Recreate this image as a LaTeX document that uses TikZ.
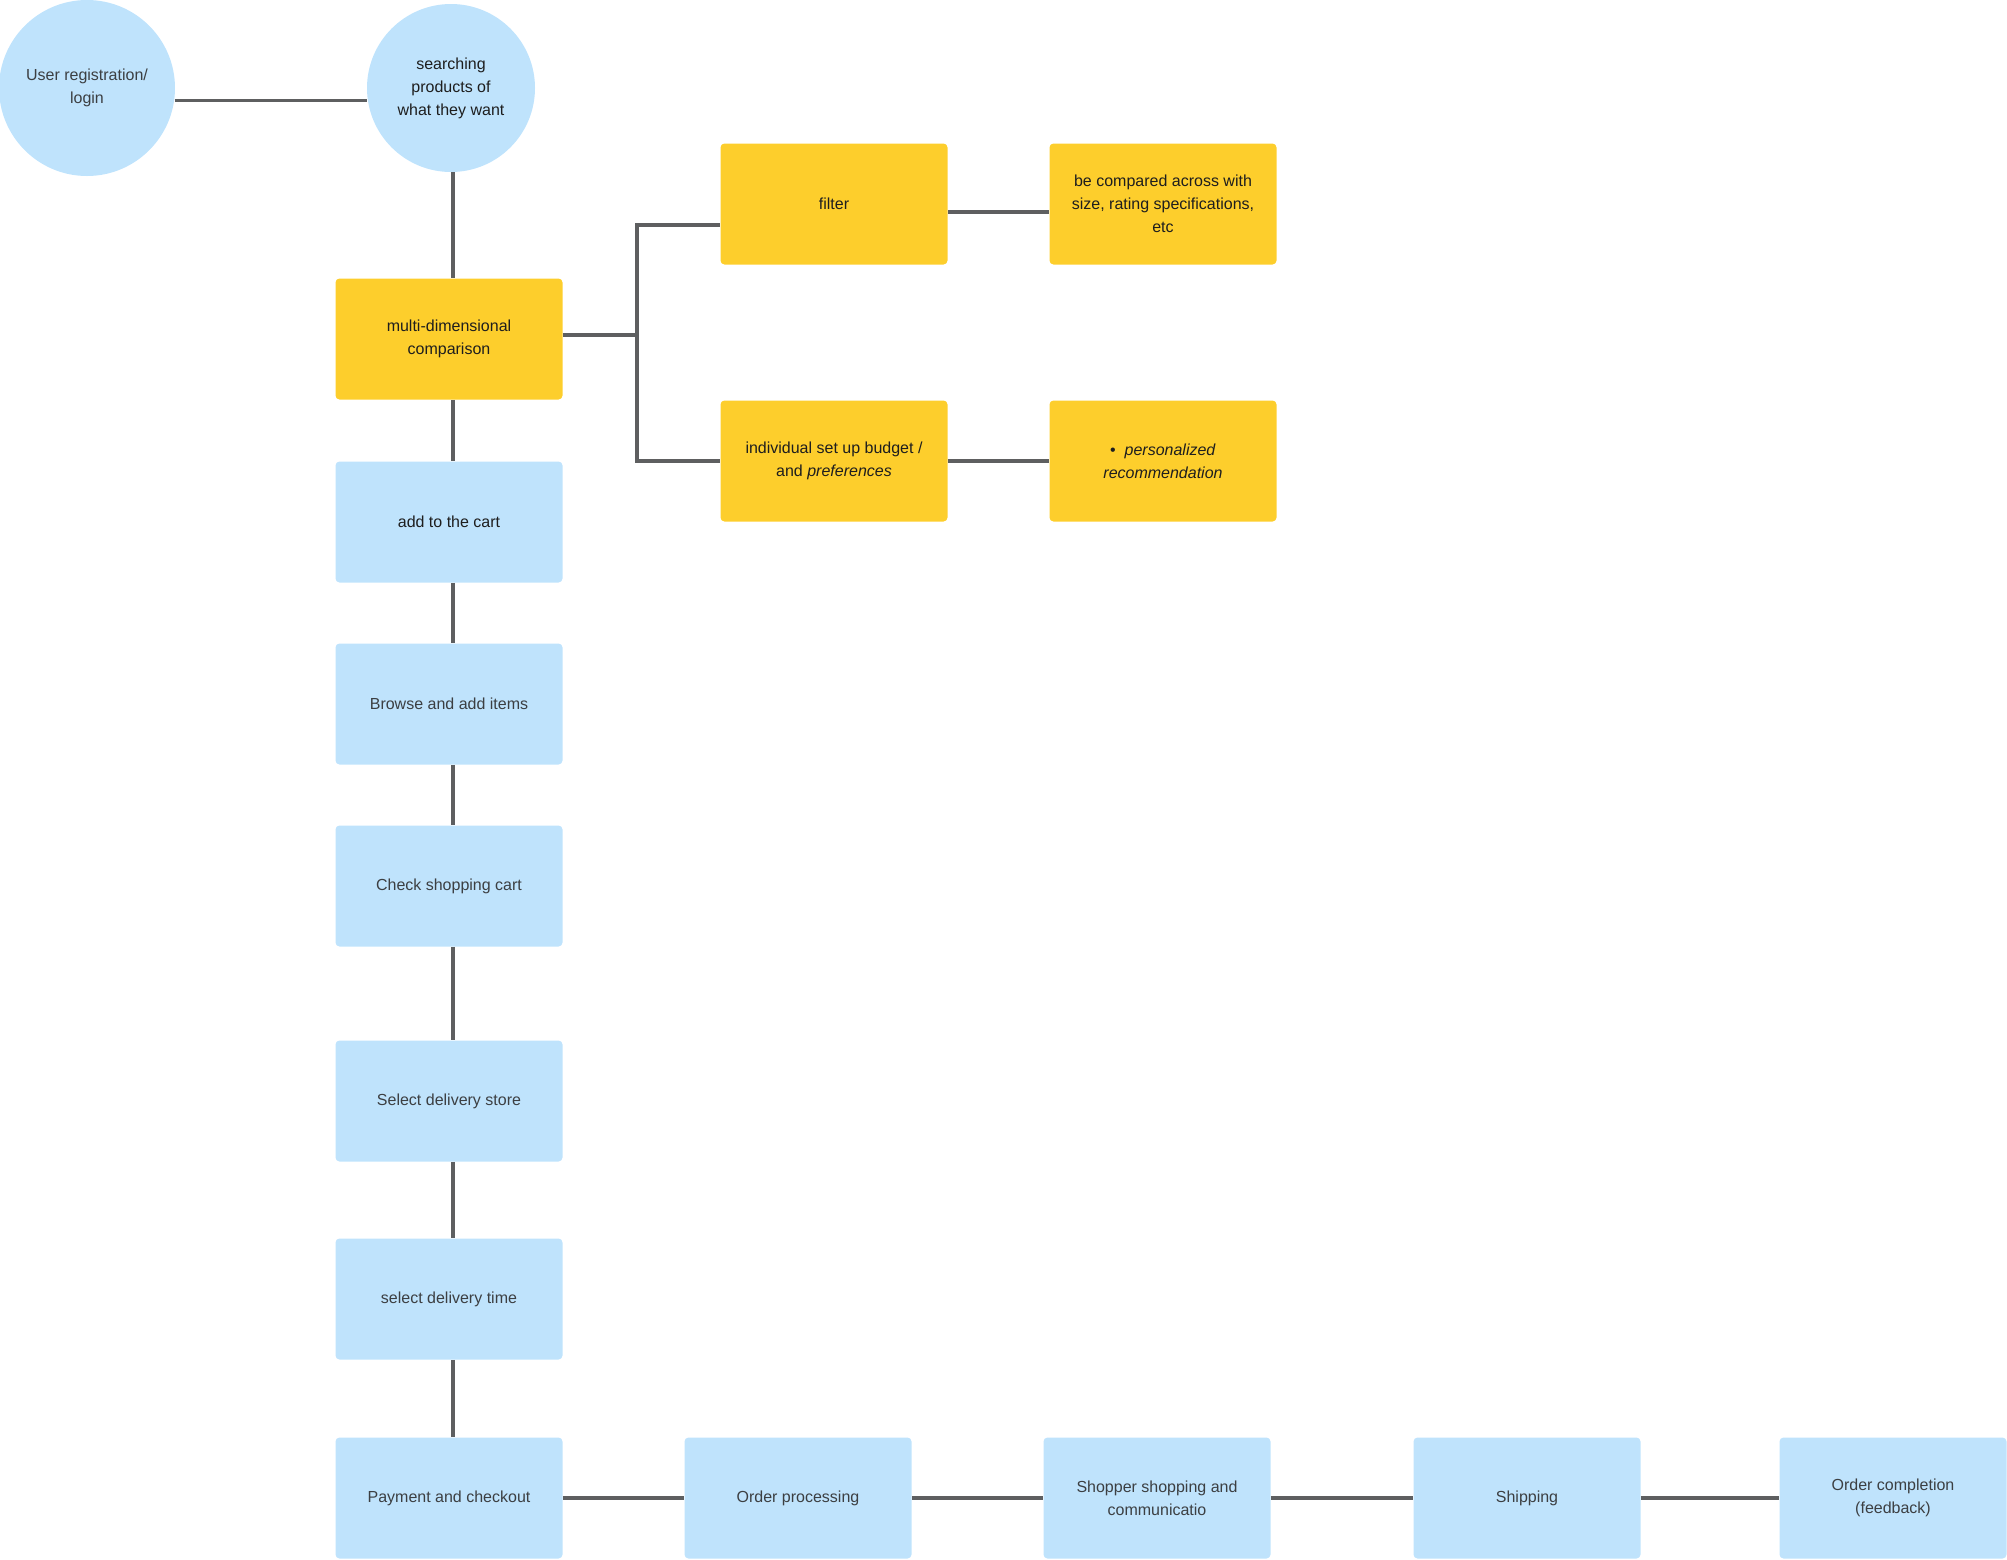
\documentclass[tikz,border=0pt]{standalone}
\usepackage{fontspec}
\setmainfont{Liberation Sans}

\definecolor{stepblue}{HTML}{BFE3FC}
\definecolor{stepyellow}{HTML}{FDCE2C}
\definecolor{linkgray}{HTML}{5E5F60}
\definecolor{inkgray}{HTML}{3C3F42}
\definecolor{inkdark}{HTML}{1E1E1E}

\tikzset{
	bluebox/.style={rectangle, rounded corners=2pt, fill=stepblue, minimum width=113.5pt, minimum height=60.5pt,
		align=center, font=\fontsize{8}{11.5}\selectfont, text=inkgray},
	yellowbox/.style={bluebox, fill=stepyellow, text=inkdark},
	bluecircle/.style={circle, fill=stepblue, inner sep=0pt, align=center, font=\fontsize{8}{11.5}\selectfont, text=inkgray},
	link/.style={draw=linkgray, line width=1.6pt},
}

\begin{document}
\begin{tikzpicture}[x=0.5pt, y=-0.5pt]
	\useasboundingbox (0,0) rectangle (2007,1559);

	% top circles
	\node[bluecircle, minimum size=88pt] (login) at (87,88) {User registration/\\login};
	\node[bluecircle, minimum size=84pt, text=inkdark] (search) at (451,88) {searching\\products of\\what they want};

	% comparison branch
	\node[yellowbox] (compare) at (449,339) {multi-dimensional\\comparison};
	\node[yellowbox] (filter) at (834,204) {filter};
	\node[yellowbox] (specs) at (1163,204) {be compared across with\\size, rating specifications,\\etc};
	\node[yellowbox] (budget) at (834,461) {individual set up budget /\\and \textit{preferences}};
	\node[yellowbox] (recommend) at (1163,461) {\textbullet\ \ \textit{personalized}\\\textit{recommendation}};

	% main column
	\node[bluebox, text=inkdark] (cart) at (449,522) {add to the cart};
	\node[bluebox] (browse) at (449,704) {Browse and add items};
	\node[bluebox] (check) at (449,886) {Check shopping cart};
	\node[bluebox] (store) at (449,1101) {Select delivery store};
	\node[bluebox] (time) at (449,1299) {select delivery time};
	\node[bluebox] (payment) at (449,1498) {Payment and checkout};

	% bottom row
	\node[bluebox] (processing) at (798,1498) {Order processing};
	\node[bluebox] (shopper) at (1157,1498) {Shopper shopping and\\communicatio};
	\node[bluebox] (shipping) at (1527,1498) {Shipping};
	\node[bluebox] (completion) at (1893,1498) {Order completion\\(feedback)};

	\draw[link] (login.-8) -- (login.-8 -| search.west);
	\draw[link] ([xshift=1pt]search.south) -- ([xshift=2pt]compare.north);

	\foreach \a/\b in {compare/cart, cart/browse, browse/check, check/store, store/time, time/payment}{
		\draw[link] ([xshift=2pt]\a.south) -- ([xshift=2pt]\b.north);
	}
	\foreach \a/\b in {payment/processing, processing/shopper, shopper/shipping, shipping/completion}{
		\draw[link] (\a) -- (\b);
	}

	\draw[link] ([yshift=2pt]compare.east) -- ++(74,0) coordinate (fork);
	\draw[link] (fork) |- ([yshift=-10.5pt]filter.west);
	\draw[link] (fork) |- (budget.west);
	\draw[link] ([yshift=-4pt]filter.east) -- ([yshift=-4pt]specs.west);
	\draw[link] (budget) -- (recommend);
\end{tikzpicture}
\end{document}
